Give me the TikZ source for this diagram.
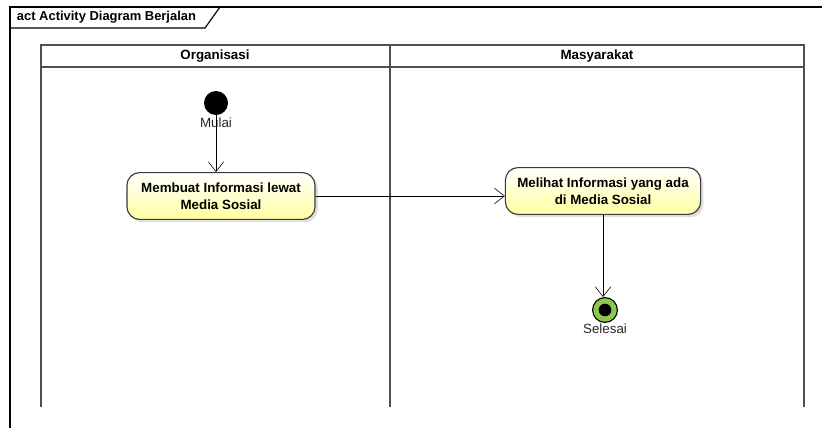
\documentclass[tikz,border=0pt]{standalone}
\usepackage{fontspec}
\setmainfont{Liberation Sans}
\usepackage{xcolor}
\usetikzlibrary{
  arrows.meta,
  positioning,
  shadows
}
\definecolor{actfill}  {HTML}{FFFFC8}
\definecolor{actedge}  {HTML}{3A3A3A}
\definecolor{endgreen} {HTML}{8CC84B}
\definecolor{lanegray} {HTML}{505050}

\begin{document}
\begin{tikzpicture}[
  x=0.025cm, y=-0.025cm,
  every node/.style={font=\fontsize{9.5}{11}\selectfont},
  lane/.style={draw=lanegray, line width=1.1pt},
  head/.style={font=\fontsize{9.5}{11}\selectfont\bfseries},
  act/.style={rectangle, rounded corners=9pt, minimum width=4.7cm,
              minimum height=1.17cm, align=center, draw=actedge, thick,
              inner xsep=2pt,
              top color=white, bottom color=actfill!80!yellow,
              drop shadow={shadow xshift=2pt, shadow yshift=-2pt, opacity=0.25},
              font=\fontsize{9.5}{12}\selectfont\bfseries},
  startnode/.style={circle, fill=black, minimum size=0.6cm, inner sep=0pt},
  stopnode/.style={circle, draw=black, thick, fill=endgreen, minimum size=0.62cm,
                   inner sep=0pt},
  arr/.style={-{Straight Barb[length=7pt, width=11pt]}, thin},
  lbl/.style={font=\fontsize{9.5}{11}\selectfont, color=black!85},
]
\useasboundingbox (0,0) rectangle (822,428);

% -- Frame --------------------------------------
\draw[thick] (10,428) -- (10,7) -- (822,7);
\draw[thick] (10,28) -- (205,28) -- (220,7);
\node[anchor=west, head, font=\fontsize{9.2}{11}\selectfont\bfseries] (title)
  at (12,17) {act Activity Diagram Berjalan};

% -- Swimlanes ----------------------------------
\draw[lane] (41,407) -- (41,45) -- (804,45) -- (804,407);
\draw[lane] (41,67) -- (804,67);
\draw[lane] (390,45) -- (390,407);
\node[head] (org) at (215,56) {Organisasi};
\node[head] (mas) at (597,56) {Masyarakat};

% -- Nodes --------------------------------------
\node[startnode] (start) at (216,103) {};
\node[lbl] (mulai) at (216,123) {Mulai};
\node[act] (buat)  at (221,196) {Membuat Informasi lewat\\Media Sosial};
\node[act, minimum width=4.88cm] (lihat) at (603,191)
  {Melihat Informasi yang ada\\di Media Sosial};
\node[stopnode] (stop) at (605,310) {};
\fill (stop) circle (4.5pt);
\node[lbl] (selesai) at (605,329) {Selesai};

% -- Arrows -------------------------------------
\draw[arr] (start) -- (start |- buat.north);
\draw[arr] (buat.east) -- (buat.east -| lihat.west);
\draw[arr] (lihat) -- (lihat |- stop.north);

\end{tikzpicture}
\end{document}
